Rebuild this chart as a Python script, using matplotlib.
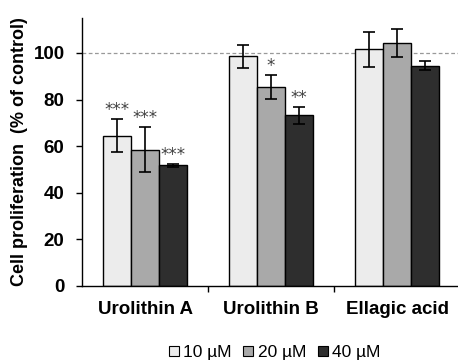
import numpy as np
import matplotlib
matplotlib.use('Agg')
import matplotlib.pyplot as plt
from matplotlib.lines import Line2D

plt.rcParams['font.family'] = ['Liberation Sans', 'DejaVu Sans']

# data
categories = ['Urolithin A', 'Urolithin B', 'Ellagic acid']
doses = ['10 µM', '20 µM', '40 µM']
means = [[64.5, 98.5, 101.5],    # 10 uM
         [58.4, 85.4, 104.3],    # 20 uM
         [51.8, 73.3, 94.6]]     # 40 uM
errs = [[7.0, 4.8, 7.5],
        [9.7, 5.0, 6.2],
        [0.6, 3.6, 2.0]]
stars = [['***', '', ''],
         ['***', '*', ''],
         ['***', '**', '']]
colors = ['#ececec', '#a9a9a9', '#2e2e2e']

fig = plt.figure(figsize=(4.58, 3.61), dpi=100)
ax = fig.add_axes([0.179, 0.208, 0.826, 0.742])

x = np.arange(len(categories))
w = 0.222
for i in range(3):
    xs = x + (i - 1) * w
    ax.bar(xs, means[i], w, color=colors[i], edgecolor='black', linewidth=1.0, zorder=2)
    ax.errorbar(xs, means[i], yerr=errs[i], fmt='none', ecolor='black',
                elinewidth=1.2, capsize=4, capthick=1.2, zorder=3)
    for j in range(3):
        if stars[i][j]:
            ax.text(xs[j], means[i][j] + errs[i][j] + 1.8, stars[i][j], ha='center',
                    va='baseline', fontsize=12, color='#404040', family='DejaVu Sans')

ax.axhline(100, color='#999999', linestyle=(0, (3, 2)), linewidth=0.9, zorder=1)

ax.set_xlim(-0.5, 2.5)
ax.set_ylim(0, 115)
ax.set_yticks([0, 20, 40, 60, 80, 100])
ax.set_xticks([0.5, 1.5])
ax.set_xticklabels([])
ax.tick_params(axis='x', length=4, width=1, direction='out')
ax.tick_params(axis='y', length=4.5, width=1, direction='out', labelsize=13.5, pad=8)
for lab in ax.get_yticklabels():
    lab.set_fontweight('bold')
for j, c in enumerate(categories):
    ax.text(x[j], -6.5, c, ha='center', va='top', fontsize=13.5, fontweight='bold',
            transform=ax.transData)
ax.set_ylabel('Cell proliferation  (% of control)', fontsize=13, fontweight='bold', labelpad=4)
ax.spines['top'].set_visible(False)
ax.spines['right'].set_visible(False)
ax.spines['left'].set_linewidth(1.0)
ax.spines['bottom'].set_linewidth(1.0)

handles = [Line2D([], [], marker='s', linestyle='none', markersize=7,
                  markerfacecolor=colors[i], markeredgecolor='black', markeredgewidth=0.8)
           for i in range(3)]
fig.legend(handles, doses, loc='center', bbox_to_anchor=(274 / 458, 1 - 352 / 361), ncol=3,
           frameon=False, fontsize=12.5, handlelength=0.7, handletextpad=0.2,
           columnspacing=0.6, borderpad=0)

fig.savefig('out.png', dpi=100)
